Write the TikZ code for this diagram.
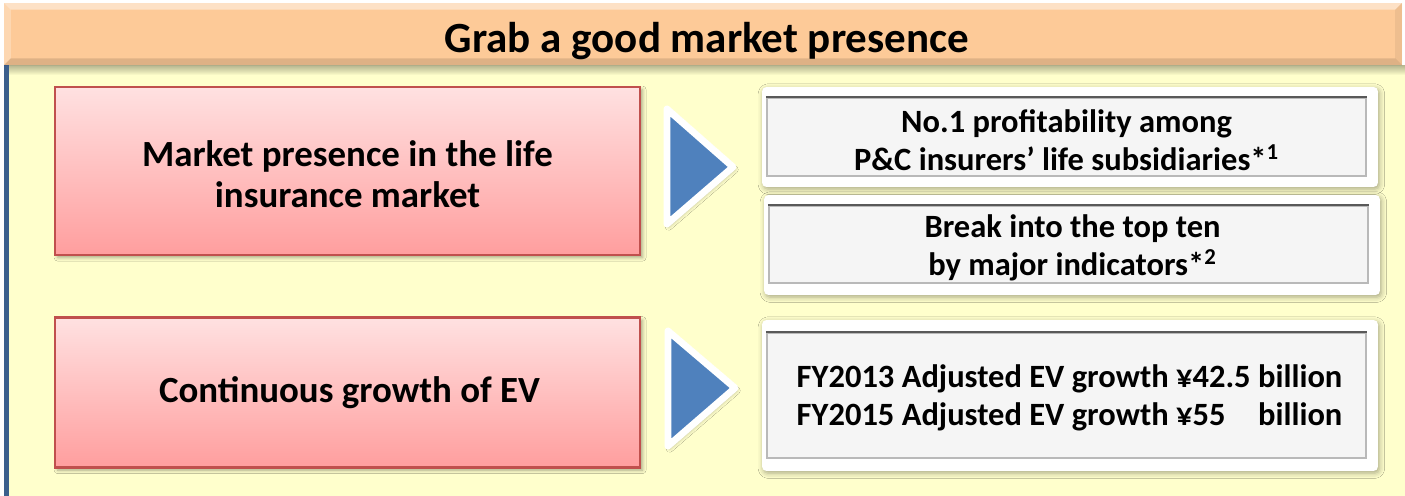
\documentclass[tikz,border=0pt]{standalone}
\usepackage{fontspec}
\setmainfont{Carlito}
\usetikzlibrary{calc,shadows.blur}
\definecolor{paper}{HTML}{FFFFCC}
\definecolor{banner}{HTML}{FDCA98}
\definecolor{edgeblue}{HTML}{3B5F8C}
\definecolor{redline}{HTML}{C0504D}
\definecolor{redtop}{HTML}{FFE1E1}
\definecolor{redbot}{HTML}{FF9E9E}
\definecolor{chevron}{HTML}{4F81BD}
\definecolor{panel}{HTML}{F5F5F5}
\begin{document}
\begin{tikzpicture}[x=0.02cm,y=-0.02cm,
  titlebar/.style={fill=banner, minimum width=27.96cm, minimum height=1.24cm, inner sep=0pt},
  redbox/.style={draw=redline, line width=1.4pt, top color=redtop, bottom color=redbot,
    minimum width=11.7cm, inner sep=0pt,
    blur shadow={shadow xshift=1.5pt, shadow yshift=-1.5pt, shadow blur radius=2pt, shadow opacity=35}},
  redtext/.style={align=center, inner sep=0pt, font=\fontsize{21}{23}\selectfont\bfseries},
  frame/.style={fill=white, rounded corners=2.5pt, minimum width=12.32cm, inner sep=0pt,
    blur shadow={shadow xshift=0.8pt, shadow yshift=-1.2pt, shadow blur radius=3pt, shadow opacity=35}},
  panelbox/.style={fill=panel, draw=gray!55, line width=1.3pt, minimum width=11.98cm, inner sep=0pt},
  paneltext/.style={align=center, inner sep=0pt, font=\fontsize{18.5}{21.5}\selectfont\bfseries},
  arrowhead/.style={fill=chevron, draw=white, line width=3.9pt, line join=round,
    blur shadow={shadow xshift=1pt, shadow yshift=-1.5pt, shadow blur radius=2pt, shadow opacity=30}}
]
\useasboundingbox (0,0) rectangle (1405,496);
\fill[white] (0,0) rectangle (1405,496);

% yellow sheet with its blue left rule
\fill[paper] (9,65) rectangle (1405,496);
\fill[edgeblue] (4,65) rectangle (9,496);

% soft shadow under the title bar
\foreach \i in {1,...,10}
  \fill[black,opacity=0.03] (9,65) rectangle (1405,65+\i);

% title bar with bevelled edges
\node[titlebar] (title) at (703,34) {};
\fill[white,opacity=0.45] (title.north west) -- (title.north east)
  -- ($(title.north east)+(-7,7)$) -- ($(title.north west)+(7,7)$) -- cycle;
\fill[white,opacity=0.25] (title.north west) -- ($(title.north west)+(7,7)$)
  -- ($(title.south west)+(7,-7)$) -- (title.south west) -- cycle;
\fill[black,opacity=0.12] (title.south west) -- ($(title.south west)+(7,-7)$)
  -- ($(title.south east)+(-7,-7)$) -- (title.south east) -- cycle;
\fill[black,opacity=0.06] (title.north east) -- (title.south east)
  -- ($(title.south east)+(-7,-7)$) -- ($(title.north east)+(-7,7)$) -- cycle;
\node[font=\fontsize{24.5}{28}\selectfont\bfseries] (titletext) at ($(title.center)+(4,7)$)
  {Grab a good market presence};

% left-hand goals
\node[redbox, minimum height=3.36cm] (goal1) at (347.5,171) {};
\node[redtext] (goal1text) at ($(goal1.center)+(0,3)$)
  {Market presence in the life\\insurance market};
\node[redbox, minimum height=3.0cm] (goal2) at (347.5,392.5) {};
\node[redtext] (goal2text) at ($(goal2.center)+(2,0)$) {Continuous growth of EV};

% pointers
\filldraw[arrowhead] (667,109) -- (733,167) -- (667,224) -- cycle;
\filldraw[arrowhead] (668,331) -- (735,388) -- (668,446) -- cycle;

% right-hand targets
\node[frame, minimum height=2.0cm] (frameA) at (1070,137) {};
\node[panelbox, minimum height=1.56cm] (targetA) at (1066.5,137) {};
\node[paneltext] (targetAtext) at ($(targetA.center)+(0,3)$)
  {No.1 profitability among\\P\&C insurers’ life subsidiaries*\textsuperscript{1}};

\node[frame, minimum height=2.0cm] (frameB) at (1072,245) {};
\node[panelbox, minimum height=1.54cm] (targetB) at (1068.5,244.5) {};
\node[paneltext] (targetBtext) at ($(targetB.center)+(4,3)$)
  {Break into the top ten\\by major indicators*\textsuperscript{2}};

\node[frame, minimum height=3.02cm] (frameC) at (1070,395.5) {};
\node[panelbox, minimum height=2.5cm] (targetC) at (1066.5,395.5) {};
\node[paneltext] (targetCtext) at ($(targetC.center)+(3,2)$)
  {FY2013 Adjusted EV growth ¥42.5 billion\\
   FY2015 Adjusted EV growth \rlap{¥55}\phantom{¥42.5} billion};

% darker upper edge of each inset panel
\foreach \p in {targetA,targetB,targetC}
  \draw[gray!70!black, line width=1.3pt] (\p.north west) -- (\p.north east);
\end{tikzpicture}
\end{document}
